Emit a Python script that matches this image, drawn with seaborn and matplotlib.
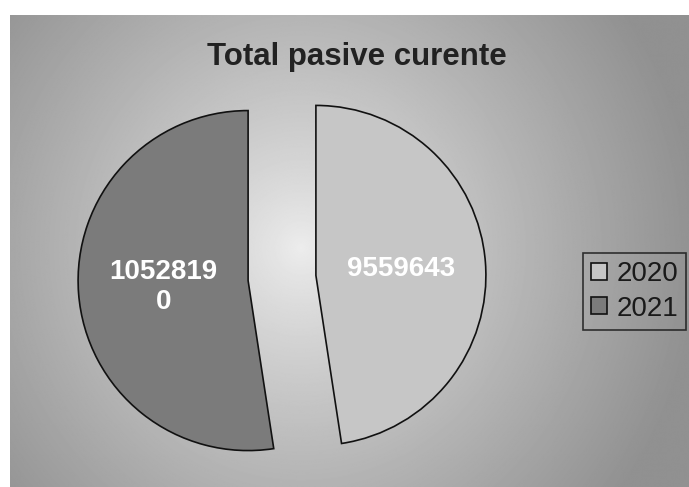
import numpy as np
import matplotlib
matplotlib.use("Agg")
import matplotlib.pyplot as plt
import seaborn as sns

# ---- data ----
years = ["2020", "2021"]
values = [9559643, 10528190]
value_labels = ["9559643", "1052819\n0"]
title = "Total pasive curente"

sns.set_theme(style="white")
plt.rcParams['font.family'] = ['Liberation Sans', 'DejaVu Sans']

W, H = 689, 487
fig = plt.figure(figsize=(W / 100, H / 100), dpi=100)
fig.patch.set_facecolor("white")

# background radial gradient (chart area), white scan margins
bg = fig.add_axes([0, 0, 1, 1])
bg.set_xlim(0, W)
bg.set_ylim(H, 0)
bg.axis("off")
yy, xx = np.mgrid[0:H, 0:W]
cx, cy = 295, 240
r = np.sqrt(((xx - cx) / 400.0) ** 2 + ((yy - cy) / 420.0) ** 2)
g = np.clip(0.93 - 0.36 * np.clip(r, 0, 1) ** 0.85, 0, 1)
bg.imshow(g, cmap="gray", vmin=0, vmax=1, extent=(10, W, H, 15),
          aspect="auto", interpolation="bilinear", zorder=0)

# pie axes
pcx, pcy, R = 282, 278, 170
side = 2.5 * R
ax = fig.add_axes([(pcx - side / 2) / W, (H - pcy - side / 2) / H, side / W, side / H])
ax.patch.set_alpha(0)
colors = ["#c6c6c6", "#7b7b7b"]
lab_iter = iter(value_labels)
wedges, texts, autotexts = ax.pie(
    values, labels=years, labeldistance=None, colors=colors,
    startangle=90, counterclock=False, explode=[0.2, 0.2],
    autopct=lambda p: next(lab_iter), pctdistance=0.5,
    wedgeprops=dict(edgecolor="#111111", linewidth=1.2),
    textprops=dict(color="white", fontsize=20, fontweight="bold"),
)
ax.set_xlim(-1.25, 1.25)
ax.set_ylim(-1.25, 1.25)
ax.set_aspect("auto")
ax.axis("off")

fig.text(357 / W, 1 - 57 / H, title, ha="center", va="center",
         fontsize=22.5, fontweight="bold", color="#222222")

leg = ax.legend(wedges, years, loc="upper left",
                bbox_to_anchor=(583 / W, 1 - 253 / H), bbox_transform=fig.transFigure,
                fontsize=20, frameon=True, fancybox=False, edgecolor="#111111",
                facecolor="none", handlelength=0.55, handleheight=0.55,
                handletextpad=0.35, borderpad=0.3, labelspacing=0.3,
                borderaxespad=0)
leg.get_frame().set_linewidth(1.2)
for t in leg.get_texts():
    t.set_color("#1a1a1a")

fig.savefig("out.png", dpi=100)
